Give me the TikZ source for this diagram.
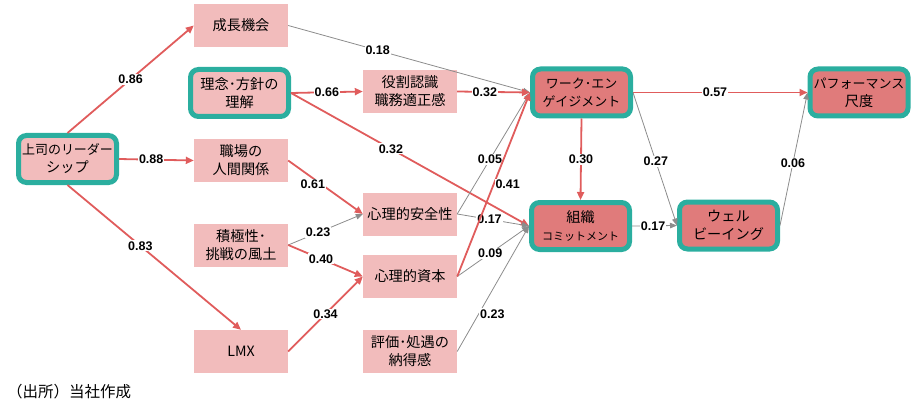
\documentclass[tikz,border=0pt]{standalone}
\usepackage{fontspec}
\setmainfont{Liberation Sans}
\newfontfamily\jp{Noto Sans CJK JP}
\usepackage{xcolor}
\usetikzlibrary{arrows.meta}
\definecolor{cPink}{HTML}{F2BCBC}
\definecolor{cHot}{HTML}{E07B7B}
\definecolor{cTeal}{HTML}{2BAE9F}
\definecolor{cArr}{HTML}{E05C5C}
\definecolor{cGry}{HTML}{8C8C8C}
\newcommand{\narrow}{\fontsize{13}{18}\selectfont}

\begin{document}
\begin{tikzpicture}[x=1pt, y=-1pt,
    box/.style={fill=cPink, minimum width=94pt, minimum height=43pt, inner sep=1pt,
      align=center, font=\jp\fontsize{14.2}{18}\selectfont},
    keybox/.style={box, draw=cTeal, line width=5pt, rounded corners=8pt,
      minimum width=98pt, minimum height=47pt},
    hotbox/.style={keybox, fill=cHot},
    redarr/.style={draw=cArr, line width=1.8pt, -{Triangle[length=8pt, width=7pt]}},
    gryarr/.style={draw=cGry, line width=0.8pt, -{Triangle[length=7pt, width=5.5pt]}},
    lbl/.style={fill=white, inner sep=1pt, font=\bfseries\fontsize{12.5}{12.5}\selectfont}]
  \useasboundingbox (0,0) rectangle (921,409);

  % left column
  \node[keybox] (leader) at (67.5,159) {{\narrow 上司のリーダー}\\シップ};
  \node[box] (growth) at (241,25.5) {成長機会};
  \node[keybox] (philo) at (239.5,93) {理念･方針の\\理解};
  \node[box] (relat) at (241,160.5) {職場の\\人間関係};
  \node[box] (climate) at (241,245) {積極性･\\挑戦の風土};
  \node[box] (lmx) at (241,351.5) {LMX};

  % middle column
  \node[box] (role) at (410,91.5) {役割認識\\職務適正感};
  \node[box] (safety) at (410,214) {心理的安全性};
  \node[box] (capital) at (410,276.5) {心理的資本};
  \node[box] (evalu) at (410,351.5) {評価･処遇の\\納得感};

  % outcomes
  \node[hotbox] (engage) at (581.5,92.5) {{\narrow ワーク･エン}\\{\narrow ゲイジメント}};
  \node[hotbox] (commit) at (580.5,226) {組織\\{\fontsize{11}{18}\selectfont コミットメント}};
  \node[hotbox] (wellb) at (728.5,225.5) {ウェル\\ビーイング};
  \node[hotbox] (perf) at (859,92.5) {{\narrow パフォーマンス}\\尺度};

  \node[anchor=west, inner sep=0pt, font=\jp\fontsize{15.5}{15.5}\selectfont] (source) at (7,392) {（出所）当社作成};

  % paths
  \draw[redarr] (leader.north) -- node[lbl, pos=0.5] {0.86} (growth.west);
  \draw[redarr] (leader.east) -- node[lbl, pos=0.43] {0.88} (relat.west);
  \draw[redarr] (leader.south) -- node[lbl, pos=0.42] {0.83} (lmx.north);
  \draw[gryarr] (growth.east) -- node[lbl, pos=0.37] {0.18} (engage.west);
  \draw[redarr] (philo.east) -- node[lbl, pos=0.5] {0.66} (role.west);
  \draw[redarr] (philo.east) -- node[lbl, pos=0.42] {0.32} (commit.west);
  \draw[redarr] (role.east) -- node[lbl, pos=0.38] {0.32} (engage.west);
  \draw[redarr] (relat.east) -- node[lbl, pos=0.33, yshift=-6pt] {0.61} (safety.west);
  \draw[gryarr] (climate.east) -- node[lbl, pos=0.4] {0.23} (safety.west);
  \draw[redarr] (climate.east) -- node[lbl, pos=0.44] {0.40} (capital.west);
  \draw[redarr] (lmx.east) -- node[lbl, pos=0.5] {0.34} (capital.west);
  \draw[gryarr] (safety.east) -- node[lbl, pos=0.45] {0.05} (engage.west);
  \draw[gryarr] (safety.east) -- node[lbl, pos=0.45] {0.17} (commit.west);
  \draw[gryarr] (capital.east) -- node[lbl, pos=0.46] {0.09} (commit.west);
  \draw[gryarr] (evalu.east) -- node[lbl, pos=0.3, anchor=west] {0.23} (commit.west);
  \draw[redarr] (capital.east) -- node[lbl, pos=0.5, anchor=west] {0.41} (engage.west);
  \draw[redarr] (engage.south) -- node[lbl] {0.30} (commit.north);
  \draw[redarr] (engage.east) -- node[lbl, pos=0.47] {0.57} (perf.west);
  \draw[gryarr] (engage.east) -- node[lbl, pos=0.52] {0.27} (wellb.west);
  \draw[gryarr] (commit.east) -- node[lbl, pos=0.47] {0.17} (wellb.west);
  \draw[gryarr] (wellb.east) -- node[lbl, pos=0.47] {0.06} (perf.west);
\end{tikzpicture}
\end{document}
